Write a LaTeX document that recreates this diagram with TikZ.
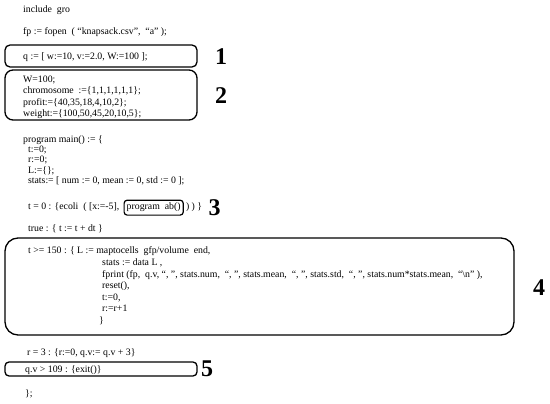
\documentclass[tikz,border=0pt]{standalone}
\usepackage{fontspec}
\setmainfont{Liberation Serif}
\usepackage{tikz}
\usetikzlibrary{positioning}

\begin{document}
\begin{tikzpicture}[x=1pt, y=-1pt,
            code/.style  = {anchor=base west, inner sep=0pt, align=left, font=\fontsize{9.8}{11.6}\selectfont},
            frame/.style = {draw=black, line width=1.3pt, rounded corners=#1},
            tag/.style   = {inner sep=0pt, font=\fontsize{24}{24}\selectfont\bfseries}]
    \useasboundingbox (0,0) rectangle (550,404);

    \node[code] (include) at (23,13) {include\ \ gro};
    \node[code] (fopen)   at (23,35) {fp := fopen\ \ ( ``knapsack.csv'',\ \ ``a'' );};

    % parameters
    \draw[frame=5pt] (5,45) rectangle (197,67);
    \node[code] (param) at (23,60) {q := [ w:=10, v:=2.0, W:=100 ];};
    \node[tag] (one) at (221,57) {1};

    % knapsack data (base = last line)
    \draw[frame=8pt] (5,70) rectangle (197,120);
    \node[code] (data) at (23,117) {W=100;\\
        chromosome\ \ :=\{1,1,1,1,1,1\};\\
        profit:=\{40,35,18,4,10,2\};\\
        weight:=\{100,50,45,20,10,5\};};
    \node[tag] (two) at (221,96) {2};

    \node[code, font=\fontsize{9.8}{10.5}\selectfont] (main) at (23,184) {program main() := \{\\
        \ \ t:=0;\\
        \ \ r:=0;\\
        \ \ L:=\{\};\\
        \ \ stats:= [ num := 0, mean := 0, std := 0 ];};

    % cell program
    \node[code] (ecoli) at (28,210) {t = 0 : \{ecoli\ \ ( [x:=-5],};
    \node[code, frame=3pt, line width=1.2pt, inner sep=2.6pt, inner ysep=3pt] (ab)
        at ([xshift=4pt]ecoli.base east) {program\ \ ab()};
    \node[code] (close) at ([xshift=2pt]ab.base east) {) ) \}};
    \node[tag, right=6pt of close] (three) {3};

    \node[code] (step) at (28,231) {true : \{ t := t + dt \}};

    % output
    \draw[frame=13pt] (5,238) rectangle (514,335);
    \node[code] (out) at (28,323.5) {t >= 150 : \{ L := maptocells\ \ gfp/volume\ \ end,\\
        \hspace{74pt}stats := data L ,\\
        \hspace{74pt}fprint (fp,\ \ q.v, ``, '', stats.num,\ \ ``, '', stats.mean,\ \ ``, '', stats.std,\ \ ``, '', stats.num*stats.mean,\ \ ``\textbackslash n'' ),\\
        \hspace{74pt}reset(),\\
        \hspace{74pt}t:=0,\\
        \hspace{74pt}r:=r+1\\
        \hspace{71pt}\}};
    \node[tag] (four) at (539,288) {4};

    \node[code] (reset) at (27,355) {r = 3 : \{r:=0, q.v:= q.v + 3\}};

    % stop
    \draw[frame=4pt] (5,362) rectangle (197,376);
    \node[code] (stop) at (25,372) {q.v > 109 : \{exit()\}};
    \node[tag] (five) at (207,369) {5};

    \node[code] (end) at (25,396) {\};};
\end{tikzpicture}
\end{document}
